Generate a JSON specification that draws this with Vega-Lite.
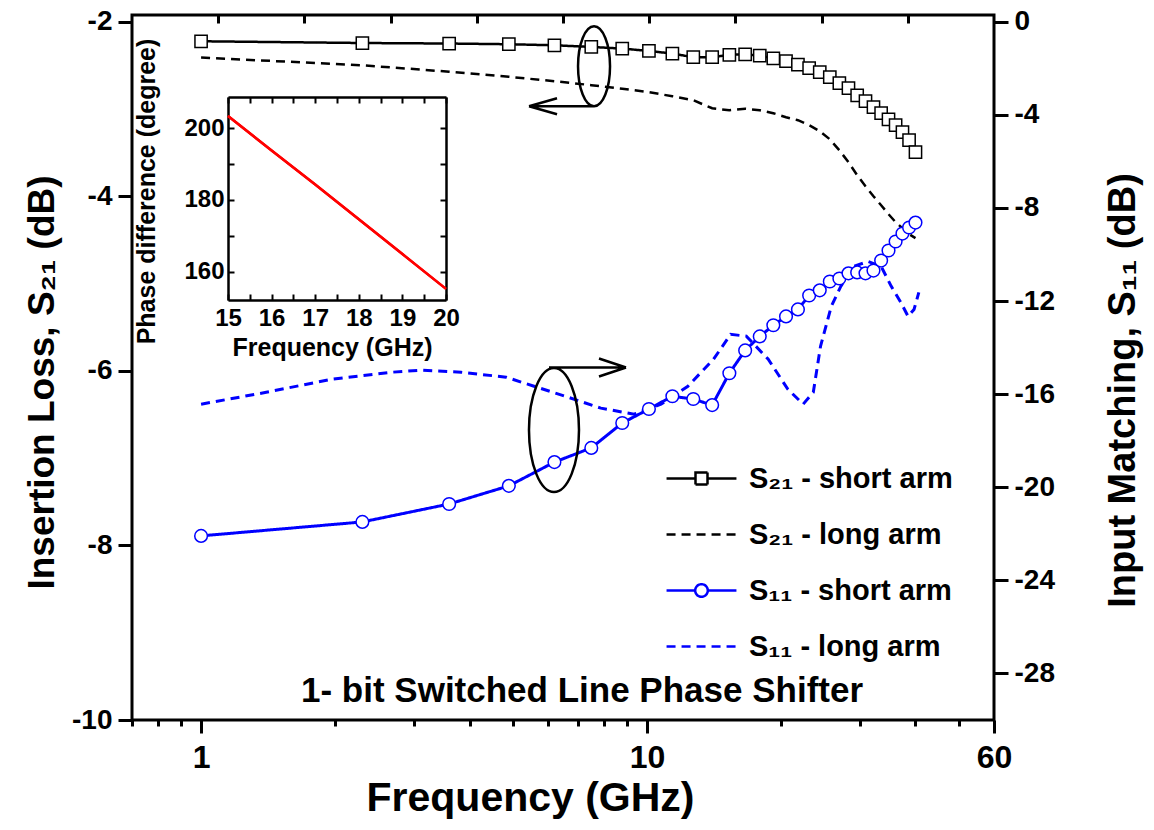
{
  "$schema": "https://vega.github.io/schema/vega-lite/v6.json",
  "width": 862,
  "height": 705,
  "autosize": {"type": "none"},
  "padding": {"left": 132, "top": 15, "right": 160, "bottom": 110},
  "background": "white",
  "config": {
    "font": "Liberation Sans",
    "view": {"stroke": "black", "strokeWidth": 3},
    "axis": {"grid": false, "labelFontWeight": "bold", "titleFontWeight": "bold", "labelColor": "black", "titleColor": "black", "tickColor": "black", "domainColor": "black", "labelFont": "Liberation Sans", "titleFont": "Liberation Sans", "labelFlush": false, "labelOverlap": false},
    "legend": {"orient": "none", "legendX": 553, "legendY": 447, "padding": 0, "symbolSize": 900, "symbolStrokeWidth": 2.5, "labelFontSize": 29, "labelFontWeight": "bold", "labelColor": "black", "labelOffset": 31, "labelLimit": 400, "rowPadding": 24}
  },
  "datasets": {
    "s21short": [
      {"f": 1, "db": -2.221, "series": "S₂₁ - short arm"},
      {"f": 2.3, "db": -2.241, "series": "S₂₁ - short arm"},
      {"f": 3.6, "db": -2.247, "series": "S₂₁ - short arm"},
      {"f": 4.9, "db": -2.255, "series": "S₂₁ - short arm"},
      {"f": 6.2, "db": -2.267, "series": "S₂₁ - short arm"},
      {"f": 7.5, "db": -2.286, "series": "S₂₁ - short arm"},
      {"f": 8.8, "db": -2.305, "series": "S₂₁ - short arm"},
      {"f": 10.1, "db": -2.332, "series": "S₂₁ - short arm"},
      {"f": 11.4, "db": -2.362, "series": "S₂₁ - short arm"},
      {"f": 12.7, "db": -2.404, "series": "S₂₁ - short arm"},
      {"f": 14.0, "db": -2.404, "series": "S₂₁ - short arm"},
      {"f": 15.3, "db": -2.376, "series": "S₂₁ - short arm"},
      {"f": 16.6, "db": -2.37, "series": "S₂₁ - short arm"},
      {"f": 17.9, "db": -2.387, "series": "S₂₁ - short arm"},
      {"f": 19.2, "db": -2.416, "series": "S₂₁ - short arm"},
      {"f": 20.5, "db": -2.45, "series": "S₂₁ - short arm"},
      {"f": 21.8, "db": -2.49, "series": "S₂₁ - short arm"},
      {"f": 23.1, "db": -2.53, "series": "S₂₁ - short arm"},
      {"f": 24.4, "db": -2.576, "series": "S₂₁ - short arm"},
      {"f": 25.7, "db": -2.633, "series": "S₂₁ - short arm"},
      {"f": 27.0, "db": -2.702, "series": "S₂₁ - short arm"},
      {"f": 28.3, "db": -2.759, "series": "S₂₁ - short arm"},
      {"f": 29.6, "db": -2.84, "series": "S₂₁ - short arm"},
      {"f": 30.9, "db": -2.908, "series": "S₂₁ - short arm"},
      {"f": 32.2, "db": -2.977, "series": "S₂₁ - short arm"},
      {"f": 33.5, "db": -3.046, "series": "S₂₁ - short arm"},
      {"f": 34.8, "db": -3.115, "series": "S₂₁ - short arm"},
      {"f": 36.1, "db": -3.183, "series": "S₂₁ - short arm"},
      {"f": 37.4, "db": -3.263, "series": "S₂₁ - short arm"},
      {"f": 38.7, "db": -3.355, "series": "S₂₁ - short arm"},
      {"f": 40.0, "db": -3.493, "series": "S₂₁ - short arm"}
    ],
    "s21long": [
      {"f": 1, "db": -2.408, "series": "S₂₁ - long arm"},
      {"f": 2.3, "db": -2.496, "series": "S₂₁ - long arm"},
      {"f": 3.6, "db": -2.57, "series": "S₂₁ - long arm"},
      {"f": 4.9, "db": -2.628, "series": "S₂₁ - long arm"},
      {"f": 6.2, "db": -2.679, "series": "S₂₁ - long arm"},
      {"f": 7.5, "db": -2.724, "series": "S₂₁ - long arm"},
      {"f": 8.8, "db": -2.765, "series": "S₂₁ - long arm"},
      {"f": 10.1, "db": -2.805, "series": "S₂₁ - long arm"},
      {"f": 11.4, "db": -2.851, "series": "S₂₁ - long arm"},
      {"f": 12.7, "db": -2.897, "series": "S₂₁ - long arm"},
      {"f": 14.0, "db": -2.989, "series": "S₂₁ - long arm"},
      {"f": 15.3, "db": -3.011, "series": "S₂₁ - long arm"},
      {"f": 16.6, "db": -2.994, "series": "S₂₁ - long arm"},
      {"f": 17.9, "db": -3.011, "series": "S₂₁ - long arm"},
      {"f": 19.2, "db": -3.046, "series": "S₂₁ - long arm"},
      {"f": 20.5, "db": -3.091, "series": "S₂₁ - long arm"},
      {"f": 21.8, "db": -3.126, "series": "S₂₁ - long arm"},
      {"f": 23.1, "db": -3.183, "series": "S₂₁ - long arm"},
      {"f": 24.4, "db": -3.252, "series": "S₂₁ - long arm"},
      {"f": 25.7, "db": -3.344, "series": "S₂₁ - long arm"},
      {"f": 27.0, "db": -3.47, "series": "S₂₁ - long arm"},
      {"f": 28.3, "db": -3.607, "series": "S₂₁ - long arm"},
      {"f": 29.6, "db": -3.756, "series": "S₂₁ - long arm"},
      {"f": 30.9, "db": -3.882, "series": "S₂₁ - long arm"},
      {"f": 32.2, "db": -3.997, "series": "S₂₁ - long arm"},
      {"f": 33.5, "db": -4.1, "series": "S₂₁ - long arm"},
      {"f": 34.8, "db": -4.203, "series": "S₂₁ - long arm"},
      {"f": 36.1, "db": -4.294, "series": "S₂₁ - long arm"},
      {"f": 37.4, "db": -4.363, "series": "S₂₁ - long arm"},
      {"f": 38.7, "db": -4.432, "series": "S₂₁ - long arm"},
      {"f": 40.0, "db": -4.477, "series": "S₂₁ - long arm"}
    ],
    "s11short": [
      {"f": 1, "db": -22.09, "series": "S₁₁ - short arm"},
      {"f": 2.3, "db": -21.49, "series": "S₁₁ - short arm"},
      {"f": 3.6, "db": -20.72, "series": "S₁₁ - short arm"},
      {"f": 4.9, "db": -19.94, "series": "S₁₁ - short arm"},
      {"f": 6.2, "db": -18.92, "series": "S₁₁ - short arm"},
      {"f": 7.5, "db": -18.31, "series": "S₁₁ - short arm"},
      {"f": 8.8, "db": -17.24, "series": "S₁₁ - short arm"},
      {"f": 10.1, "db": -16.64, "series": "S₁₁ - short arm"},
      {"f": 11.4, "db": -16.09, "series": "S₁₁ - short arm"},
      {"f": 12.7, "db": -16.21, "series": "S₁₁ - short arm"},
      {"f": 14.0, "db": -16.47, "series": "S₁₁ - short arm"},
      {"f": 15.3, "db": -15.1, "series": "S₁₁ - short arm"},
      {"f": 16.6, "db": -14.12, "series": "S₁₁ - short arm"},
      {"f": 17.9, "db": -13.52, "series": "S₁₁ - short arm"},
      {"f": 19.2, "db": -13.04, "series": "S₁₁ - short arm"},
      {"f": 20.5, "db": -12.66, "series": "S₁₁ - short arm"},
      {"f": 21.8, "db": -12.36, "series": "S₁₁ - short arm"},
      {"f": 23.1, "db": -11.76, "series": "S₁₁ - short arm"},
      {"f": 24.4, "db": -11.54, "series": "S₁₁ - short arm"},
      {"f": 25.7, "db": -11.16, "series": "S₁₁ - short arm"},
      {"f": 27.0, "db": -11.03, "series": "S₁₁ - short arm"},
      {"f": 28.3, "db": -10.81, "series": "S₁₁ - short arm"},
      {"f": 29.6, "db": -10.77, "series": "S₁₁ - short arm"},
      {"f": 30.9, "db": -10.81, "series": "S₁₁ - short arm"},
      {"f": 32.2, "db": -10.69, "series": "S₁₁ - short arm"},
      {"f": 33.5, "db": -10.26, "series": "S₁₁ - short arm"},
      {"f": 34.8, "db": -9.83, "series": "S₁₁ - short arm"},
      {"f": 36.1, "db": -9.44, "series": "S₁₁ - short arm"},
      {"f": 37.4, "db": -9.1, "series": "S₁₁ - short arm"},
      {"f": 38.7, "db": -8.84, "series": "S₁₁ - short arm"},
      {"f": 40.0, "db": -8.63, "series": "S₁₁ - short arm"}
    ],
    "s11long": [
      {"f": 1, "db": -16.43, "series": "S₁₁ - long arm"},
      {"f": 1.4, "db": -15.92, "series": "S₁₁ - long arm"},
      {"f": 1.96, "db": -15.36, "series": "S₁₁ - long arm"},
      {"f": 2.67, "db": -15.06, "series": "S₁₁ - long arm"},
      {"f": 3.11, "db": -14.97, "series": "S₁₁ - long arm"},
      {"f": 3.83, "db": -15.06, "series": "S₁₁ - long arm"},
      {"f": 4.83, "db": -15.27, "series": "S₁₁ - long arm"},
      {"f": 5.58, "db": -15.66, "series": "S₁₁ - long arm"},
      {"f": 6.65, "db": -16.13, "series": "S₁₁ - long arm"},
      {"f": 7.88, "db": -16.6, "series": "S₁₁ - long arm"},
      {"f": 9.35, "db": -16.86, "series": "S₁₁ - long arm"},
      {"f": 10.75, "db": -16.43, "series": "S₁₁ - long arm"},
      {"f": 12.35, "db": -15.66, "series": "S₁₁ - long arm"},
      {"f": 14.1, "db": -14.5, "series": "S₁₁ - long arm"},
      {"f": 15.4, "db": -13.43, "series": "S₁₁ - long arm"},
      {"f": 16.7, "db": -13.51, "series": "S₁₁ - long arm"},
      {"f": 18.7, "db": -14.5, "series": "S₁₁ - long arm"},
      {"f": 20.7, "db": -15.79, "series": "S₁₁ - long arm"},
      {"f": 22.4, "db": -16.43, "series": "S₁₁ - long arm"},
      {"f": 23.6, "db": -15.92, "series": "S₁₁ - long arm"},
      {"f": 24.5, "db": -13.94, "series": "S₁₁ - long arm"},
      {"f": 25.9, "db": -12.23, "series": "S₁₁ - long arm"},
      {"f": 27.2, "db": -11.37, "series": "S₁₁ - long arm"},
      {"f": 29.1, "db": -10.51, "series": "S₁₁ - long arm"},
      {"f": 31.3, "db": -10.3, "series": "S₁₁ - long arm"},
      {"f": 33.5, "db": -10.51, "series": "S₁₁ - long arm"},
      {"f": 35.3, "db": -11.37, "series": "S₁₁ - long arm"},
      {"f": 37.1, "db": -12.06, "series": "S₁₁ - long arm"},
      {"f": 38.5, "db": -12.66, "series": "S₁₁ - long arm"},
      {"f": 39.7, "db": -12.36, "series": "S₁₁ - long arm"},
      {"f": 40.7, "db": -11.63, "series": "S₁₁ - long arm"}
    ],
    "phase": [
      {"f": 15, "deg": 203.4},
      {"f": 16, "deg": 193.8},
      {"f": 17, "deg": 184.3},
      {"f": 18, "deg": 174.6},
      {"f": 19, "deg": 164.9},
      {"f": 20, "deg": 155.2}
    ]
  },
  "resolve": {"scale": {"x": "independent", "y": "independent"}},
  "layer": [
    {
      "data": {"name": "s21short"},
      "mark": {"type": "line", "strokeWidth": 2.5},
      "encoding": {
        "x": {"field": "f", "type": "quantitative", "scale": {"type": "log", "domain": [0.7, 60], "nice": false},
          "axis": {"orient": "bottom", "values": [1, 10, 60], "format": "d", "tickSize": 13, "tickWidth": 3, "domain": false, "labelFontSize": 32, "labelPadding": 9, "title": "Frequency (GHz)", "titleFontSize": 41, "titleX": 398, "titleY": 90, "titleAlign": "center", "titleBaseline": "alphabetic"}},
        "y": {"field": "db", "type": "quantitative", "scale": {"domain": [-10, -1.92], "nice": false, "zero": false},
          "axis": {"orient": "left", "values": [-10, -8, -6, -4, -2], "labelExpr": "datum.value < 0 ? '-' + abs(datum.value) : '' + datum.value", "tickSize": 14, "tickWidth": 3, "domain": false, "labelFontSize": 28, "labelPadding": 6, "title": "Insertion Loss, S₂₁ (dB)", "titleFontSize": 37, "titleAngle": 270, "titleX": -90, "titleY": 367, "titleAlign": "center", "titleBaseline": "middle"}},
        "color": {"field": "series", "type": "nominal",
          "scale": {"domain": ["S₂₁ - short arm", "S₂₁ - long arm", "S₁₁ - short arm", "S₁₁ - long arm"], "range": ["black", "black", "#0000ff", "#0000ff"]},
          "legend": {"title": null}},
        "strokeDash": {"field": "series", "type": "nominal",
          "scale": {"domain": ["S₂₁ - short arm", "S₂₁ - long arm", "S₁₁ - short arm", "S₁₁ - long arm"], "range": [[1, 0], [9, 6], [1, 0], [9, 6]]},
          "legend": {"title": null}}
      }
    },
    {
      "data": {"name": "s21short"},
      "mark": {"type": "point", "shape": "square", "filled": true, "fill": "white", "stroke": "black", "strokeWidth": 1.5, "size": 150, "opacity": 1},
      "encoding": {
        "x": {"field": "f", "type": "quantitative", "scale": {"type": "log", "domain": [0.7, 60], "nice": false}, "axis": null},
        "y": {"field": "db", "type": "quantitative", "scale": {"domain": [-10, -1.92], "nice": false, "zero": false}, "axis": null}
      }
    },
    {
      "data": {"name": "s21long"},
      "mark": {"type": "line", "strokeWidth": 2.5},
      "encoding": {
        "x": {"field": "f", "type": "quantitative", "scale": {"type": "log", "domain": [0.7, 60], "nice": false},
          "axis": {"orient": "bottom", "values": [0.7, 0.8, 0.9, 2, 3, 4, 5, 6, 7, 8, 9, 20, 30, 40, 50], "tickSize": 6, "tickWidth": 3, "labels": false, "domain": false, "title": null}},
        "y": {"field": "db", "type": "quantitative", "scale": {"domain": [-10, -1.92], "nice": false, "zero": false}, "axis": null},
        "color": {"field": "series", "type": "nominal", "legend": {"title": null}},
        "strokeDash": {"field": "series", "type": "nominal", "legend": {"title": null}}
      }
    },
    {
      "data": {"name": "s11long"},
      "mark": {"type": "line", "strokeWidth": 3},
      "encoding": {
        "x": {"field": "f", "type": "quantitative", "scale": {"type": "log", "domain": [0.7, 60], "nice": false}, "axis": null},
        "y": {"field": "db", "type": "quantitative", "scale": {"domain": [-30, 0.29], "nice": false, "zero": false}, "axis": null},
        "color": {"field": "series", "type": "nominal", "legend": {"title": null}},
        "strokeDash": {"field": "series", "type": "nominal", "legend": {"title": null}}
      }
    },
    {
      "data": {"name": "s11short"},
      "mark": {"type": "line", "strokeWidth": 3},
      "encoding": {
        "x": {"field": "f", "type": "quantitative", "scale": {"type": "log", "domain": [0.7, 60], "nice": false},
          "axis": {"orient": "top", "values": [1.0925, 1.705, 2.661, 4.153, 6.481, 10.11, 15.79, 24.64, 38.45], "tickSize": -8, "tickWidth": 3, "labels": false, "domain": false, "title": null}},
        "y": {"field": "db", "type": "quantitative", "scale": {"domain": [-30, 0.29], "nice": false, "zero": false},
          "axis": {"orient": "right", "values": [-28, -24, -20, -16, -12, -8, -4, 0], "labelExpr": "datum.value < 0 ? '-' + abs(datum.value) : '' + datum.value", "tickSize": 14, "tickWidth": 3, "domain": false, "labelFontSize": 28, "labelPadding": 6, "title": "Input Matching, S₁₁ (dB)", "titleFontSize": 38, "titleAngle": 270, "titleX": 129, "titleY": 375, "titleAlign": "center", "titleBaseline": "middle"}},
        "color": {"field": "series", "type": "nominal", "legend": {"title": null}},
        "strokeDash": {"field": "series", "type": "nominal", "legend": {"title": null}}
      }
    },
    {
      "data": {"name": "s11short"},
      "mark": {"type": "point", "shape": "circle", "filled": true, "fill": "white", "stroke": "#0000ff", "strokeWidth": 1.5, "size": 160, "opacity": 1},
      "encoding": {
        "x": {"field": "f", "type": "quantitative", "scale": {"type": "log", "domain": [0.7, 60], "nice": false}, "axis": null},
        "y": {"field": "db", "type": "quantitative", "scale": {"domain": [-30, 0.29], "nice": false, "zero": false}, "axis": null}
      }
    },
    {
      "data": {"values": []},
      "mark": {"type": "point", "filled": false, "strokeWidth": 2.5, "opacity": 1},
      "encoding": {
        "shape": {"field": "series", "type": "nominal",
          "scale": {"domain": ["S₂₁ - short arm", "S₂₁ - long arm", "S₁₁ - short arm", "S₁₁ - long arm"],
            "range": ["M-2.33,0H-0.4M0.4,0H2.33M-0.4,-0.4H0.4V0.4H-0.4Z", "M-2.33,0H2.33", "M-2.33,0H-0.42M0.42,0H2.33M-0.42,0A0.42,0.42,0,1,0,0.42,0A0.42,0.42,0,1,0,-0.42,0Z", "M-2.33,0H2.33"]},
          "legend": {"title": null}},
        "color": {"field": "series", "type": "nominal", "legend": {"title": null}}
      }
    },
    {
      "data": {"name": "phase"},
      "mark": {"type": "line", "color": "#ff0000", "strokeWidth": 2.5},
      "encoding": {
        "x": {"field": "f", "type": "quantitative", "scale": {"domain": [15, 20], "nice": false, "zero": false, "range": [96, 314]},
          "axis": {"orient": "bottom", "offset": -420, "values": [15, 15.5, 16, 16.5, 17, 17.5, 18, 18.5, 19, 19.5, 20], "labelExpr": "datum.value % 1 === 0 ? '' + datum.value : ''", "tickSize": -6, "tickWidth": 2, "domainWidth": 2.5, "labelFontSize": 24, "labelPadding": 12, "title": "Frequency (GHz)", "titleFontSize": 25, "titleX": 200, "titleY": 47, "titleAlign": "center", "titleBaseline": "middle"}},
        "y": {"field": "deg", "type": "quantitative", "scale": {"domain": [152.1, 208.7], "nice": false, "zero": false, "range": [285, 82]},
          "axis": {"orient": "left", "offset": -96, "values": [160, 170, 180, 190, 200], "labelExpr": "datum.value % 20 === 0 ? '' + datum.value : ''", "tickSize": -6, "tickWidth": 2, "domainWidth": 2.5, "labelFontSize": 24, "labelPadding": 10, "title": "Phase difference (degree)", "titleFontSize": 25, "titleAngle": 270, "titleX": -82, "titleY": 176, "titleAlign": "center", "titleBaseline": "middle"}}
      }
    },
    {
      "data": {"name": "phase"},
      "mark": {"type": "line", "color": "#ff0000", "strokeWidth": 2.5},
      "encoding": {
        "x": {"field": "f", "type": "quantitative", "scale": {"domain": [15, 20], "nice": false, "zero": false, "range": [96, 314]},
          "axis": {"orient": "top", "offset": -82, "values": [15, 15.5, 16, 16.5, 17, 17.5, 18, 18.5, 19, 19.5, 20], "tickSize": -6, "tickWidth": 2, "domainWidth": 2.5, "labels": false, "title": null}},
        "y": {"field": "deg", "type": "quantitative", "scale": {"domain": [152.1, 208.7], "nice": false, "zero": false, "range": [285, 82]},
          "axis": {"orient": "right", "offset": -548, "values": [160, 170, 180, 190, 200], "tickSize": -6, "tickWidth": 2, "domainWidth": 2.5, "labels": false, "title": null}}
      }
    },
    {
      "data": {"values": [{}]},
      "mark": {"type": "text", "fontSize": 35, "fontWeight": "bold", "align": "center", "baseline": "middle", "color": "black"},
      "encoding": {
        "x": {"datum": 7.15, "type": "quantitative", "scale": {"type": "log", "domain": [0.7, 60], "nice": false}, "axis": null},
        "y": {"datum": -9.667, "type": "quantitative", "scale": {"domain": [-10, -1.92], "nice": false, "zero": false}, "axis": null},
        "text": {"value": "1- bit Switched Line Phase Shifter"}
      }
    },
    {
      "data": {"values": [{}]},
      "mark": {"type": "point", "shape": "M0,-4A1.6,4,0,1,1,0,4A1.6,4,0,1,1,0,-4M0,4H-6.5M-6.5,4L-3.7,3.2M-6.5,4L-3.7,4.8", "size": 400, "filled": false, "stroke": "black", "strokeWidth": 2.5, "opacity": 1},
      "encoding": {
        "x": {"datum": 7.607, "type": "quantitative", "scale": {"type": "log", "domain": [0.7, 60], "nice": false}, "axis": null},
        "y": {"datum": -2.507, "type": "quantitative", "scale": {"domain": [-10, -1.92], "nice": false, "zero": false}, "axis": null}
      }
    },
    {
      "data": {"values": [{}]},
      "mark": {"type": "point", "shape": "M0,-6.2A2.5,6.2,0,1,1,0,6.2A2.5,6.2,0,1,1,0,-6.2M-0.5,-6.25H7.2M7.2,-6.25L4.5,-7.15M7.2,-6.25L4.5,-5.35", "size": 400, "filled": false, "stroke": "black", "strokeWidth": 2.5, "opacity": 1},
      "encoding": {
        "x": {"datum": 6.186, "type": "quantitative", "scale": {"type": "log", "domain": [0.7, 60], "nice": false}, "axis": null},
        "y": {"datum": -6.677, "type": "quantitative", "scale": {"domain": [-10, -1.92], "nice": false, "zero": false}, "axis": null}
      }
    }
  ]
}
